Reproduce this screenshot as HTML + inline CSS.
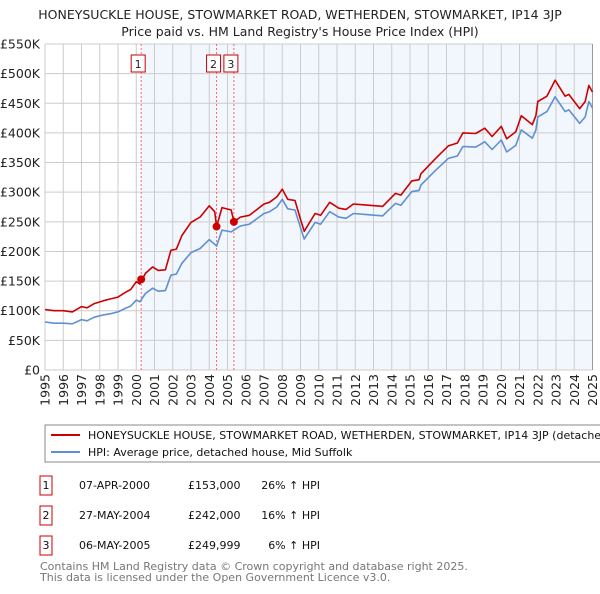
<!DOCTYPE html>
<html><head><meta charset="utf-8"><style>
body{margin:0;background:#fff;font-family:"DejaVu Sans","Liberation Sans",sans-serif;}
svg text{font-family:"DejaVu Sans","Liberation Sans",sans-serif;}
</style></head><body>
<svg id="chart" width="600" height="590" xmlns="http://www.w3.org/2000/svg">
<text x="300" y="19" text-anchor="middle" font-size="12.5" fill="#222">HONEYSUCKLE HOUSE, STOWMARKET ROAD, WETHERDEN, STOWMARKET, IP14 3JP</text>
<text x="300" y="36" text-anchor="middle" font-size="12.5" fill="#222">Price paid vs. HM Land Registry's House Price Index (HPI)</text>
<g id="plot"></g>
<rect x="45" y="425" width="560" height="37" fill="#fff" stroke="#888"/>
<line x1="51" y1="435" x2="80" y2="435" stroke="#cc0000" stroke-width="2"/>
<text x="88" y="439" font-size="11" fill="#111">HONEYSUCKLE HOUSE, STOWMARKET ROAD, WETHERDEN, STOWMARKET, IP14 3JP (detached house)</text>
<line x1="51" y1="452" x2="80" y2="452" stroke="#6090d0" stroke-width="2"/>
<text x="88" y="456" font-size="11" fill="#111">HPI: Average price, detached house, Mid Suffolk</text>
<g font-size="11" fill="#111">
<rect x="40" y="476" width="12" height="19" fill="none" stroke="#cc0000"/><text x="46" y="489" text-anchor="middle">1</text>
<text x="79" y="489">07-APR-2000</text><text x="188" y="489">£153,000</text><text x="320" y="489" text-anchor="end">26% ↑ HPI</text>
<rect x="40" y="506" width="12" height="19" fill="none" stroke="#cc0000"/><text x="46" y="519" text-anchor="middle">2</text>
<text x="79" y="519">27-MAY-2004</text><text x="188" y="519">£242,000</text><text x="320" y="519" text-anchor="end">16% ↑ HPI</text>
<rect x="40" y="536" width="12" height="19" fill="none" stroke="#cc0000"/><text x="46" y="549" text-anchor="middle">3</text>
<text x="79" y="549">06-MAY-2005</text><text x="188" y="549">£249,999</text><text x="320" y="549" text-anchor="end">6% ↑ HPI</text>
</g>
<text x="40" y="570" font-size="11" fill="#777">Contains HM Land Registry data © Crown copyright and database right 2025.</text>
<text x="40" y="581" font-size="11" fill="#777">This data is licensed under the Open Government Licence v3.0.</text>
</svg>
<script>
const yTicks=[0,50,100,150,200,250,300,350,400,450,500,550];
const yTickLabels=["£0","£50K","£100K","£150K","£200K","£250K","£300K","£350K","£400K","£450K","£500K","£550K"];
const xYears=[1995,1996,1997,1998,1999,2000,2001,2002,2003,2004,2005,2006,2007,2008,2009,2010,2011,2012,2013,2014,2015,2016,2017,2018,2019,2020,2021,2022,2023,2024,2025];
const hpiYears=[1995.0,1995.5,1996.0,1996.5,1997.0,1997.3,1997.7,1998.2,1998.6,1999.0,1999.4,1999.7,2000.0,2000.2,2000.5,2000.9,2001.2,2001.6,2001.9,2002.2,2002.5,2003.0,2003.5,2004.0,2004.3,2004.4,2004.7,2005.2,2005.35,2005.7,2006.2,2007.0,2007.3,2007.7,2008.0,2008.3,2008.7,2009.0,2009.2,2009.8,2010.1,2010.6,2011.1,2011.5,2011.9,2012.7,2013.5,2014.2,2014.5,2015.1,2015.5,2015.6,2016.4,2017.1,2017.6,2017.9,2018.6,2019.1,2019.5,2020.0,2020.3,2020.8,2021.1,2021.7,2021.9,2022.0,2022.5,2022.95,2023.5,2023.7,2024.3,2024.6,2024.8,2025.0];
const hpiValues=[81,79,79,78,85,83,89,93,95,98,104,108,118,115,129,138,133,134,160,162,180,198,205,220,212,209,236,233,236,243,246,264,267,275,288,272,270,240,221,249,246,267,258,256,264,262,260,281,278,301,303,312,337,357,361,377,376,385,372,388,368,379,405,391,405,427,436,461,436,439,416,427,453,442];
const propertyValues=[102,100,100,98,107,105,112,117,120,123,131,136,149,145,163,174,168,169,202,204,227,249,258,277,267,242,274,270,250,258,261,280,283,292,305,288,286,254,234,264,261,283,273,271,280,278,276,298,295,319,321,331,357,378,383,400,399,408,394,411,390,402,429,414,429,453,462,489,462,465,441,453,480,469];
const saleYears=[2000.27,2004.4,2005.35];
const salePrices=[153,242,250];
const saleLabels=["1","2","3"];
const NS="http://www.w3.org/2000/svg";
const X0=45,X1=592.5,Y0=370,Y1=44;
function xs(y){return X0+(y-1995)/(2025-1995)*(X1-X0);}
function ys(v){return Y0-v/550*(Y0-Y1);}
const g=document.getElementById('plot');
function mk(t,a){const e=document.createElementNS(NS,t);for(const k in a)e.setAttribute(k,a[k]);g.appendChild(e);return e;}
let bg=mk('rect',{x:X0,y:Y1,width:X1-X0,height:Y0-Y1,fill:'#fff'});


let sh=mk('rect',{x:xs(saleYears[0]),y:Y1,width:X1-xs(saleYears[0]),height:Y0-Y1,fill:'#eef3fc',opacity:0.75});


yTicks.forEach((v,i)=>{
 let l=mk('line',{x1:X0,x2:X1,y1:ys(v),y2:ys(v),stroke:'#ccc','stroke-width':1});
 
 
 let t=mk('text',{x:X0-5,y:ys(v)+4.5,'text-anchor':'end','font-size':12.5,fill:'#222'});
 t.textContent=yTickLabels[i];
 
 
});
xYears.forEach(yr=>{
 let l=mk('line',{x1:xs(yr),x2:xs(yr),y1:Y1,y2:Y0,stroke:'#ccc','stroke-width':1});
 
 
 let t=mk('text',{x:0,y:0,'text-anchor':'end','font-size':12.5,fill:'#222',transform:`translate(${xs(yr)+4.5},374) rotate(-90)`});
 t.textContent=yr;
 
 
});
let ax=mk('line',{x1:X1,x2:X1,y1:Y1,y2:Y0,stroke:'#999'});


saleYears.forEach((yr,i)=>{
 let l=mk('line',{x1:xs(yr),x2:xs(yr),y1:Y1,y2:Y0,stroke:'#ff6666','stroke-width':1,'stroke-dasharray':'2,2'});
 
 
 let r=mk('rect',{x:xs(yr)-10,y:55,width:14,height:17,fill:'#fff',stroke:'#cc0000'});
 
 
 let t=mk('text',{x:xs(yr)-3,y:68,'text-anchor':'middle','font-size':11,fill:'#222'});
 t.textContent=saleLabels[i];
 
 
});
function line(vals,color,name){
 const d=vals.map((v,i)=>(i?'L':'M')+xs(hpiYears[i]).toFixed(1)+','+ys(v).toFixed(1)).join('');
 const p=mk('path',{d:d,fill:'none',stroke:color,'stroke-width':1.6,'stroke-linejoin':'round'});
 
 
}
line(hpiValues,'#6090d0','hpi-line');
line(propertyValues,'#cc0000','property-line');
saleYears.forEach((yr,i)=>{
 const c=mk('circle',{cx:xs(yr),cy:ys(salePrices[i]),r:4,fill:'#cc0000'});
 
 
});
</script>
</body></html>
